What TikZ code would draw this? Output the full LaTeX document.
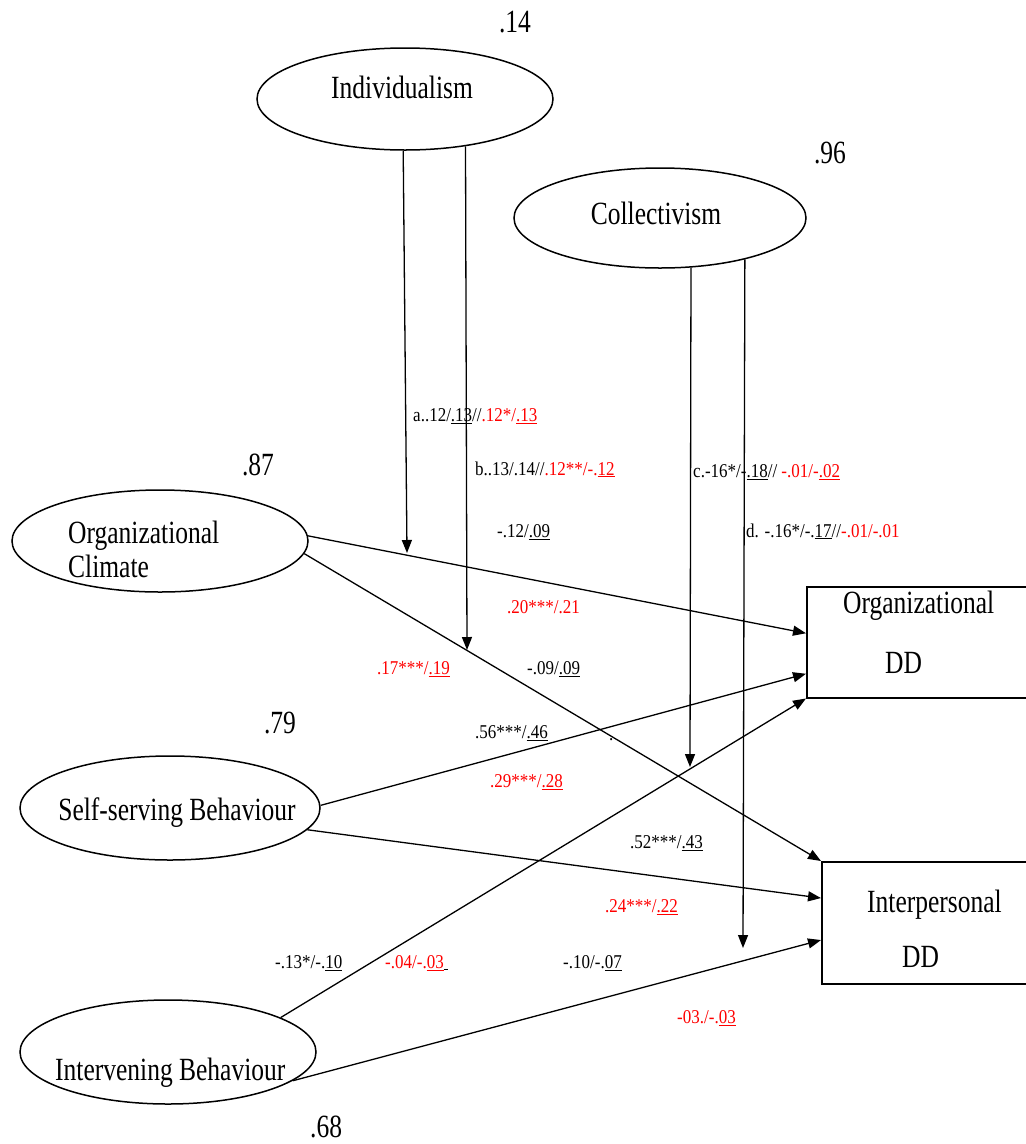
\documentclass[tikz,border=0pt]{standalone}
\usepackage{fontspec}
\setmainfont{Liberation Serif}
\usetikzlibrary{arrows.meta,shapes.geometric,calc}
\newcommand\TallT[1]{\scalebox{1}[1.27]{#1}}
\newcommand\SmT[1]{\scalebox{1}[1.15]{#1}}
\definecolor{lblred}{RGB}{255,0,0}
\begin{document}
\begin{tikzpicture}[x=1pt,y=-1pt,
  latent/.style={draw, ellipse, line width=1.5pt, inner sep=0pt},
  obs/.style={draw, rectangle, line width=1.5pt, inner sep=0pt, anchor=north west},
  conn/.style={line width=1.3pt, -{Triangle[length=13pt,width=10pt]}},
  bigt/.style={font=\fontsize{25.5}{30}\selectfont, inner sep=0pt, anchor=base},
  bigl/.style={font=\fontsize{25.5}{30}\selectfont, inner sep=0pt, anchor=base west},
  smt/.style={font=\fontsize{17}{20}\selectfont, inner sep=0pt, anchor=base west},
]
\useasboundingbox (0,0) rectangle (1026,1144);
\fill[white] (0,0) rectangle (1026,1144);

% latent variables
\node[latent, minimum width=296pt, minimum height=102pt] (ind) at (405,99) {};
\node[latent, minimum width=292pt, minimum height=100pt] (col) at (660,218) {};
\node[latent, minimum width=296pt, minimum height=102pt] (oc) at (160,541) {};
\node[latent, minimum width=300pt, minimum height=104pt] (ssb) at (170,808) {};
\node[latent, minimum width=296pt, minimum height=104pt] (inb) at (168,1052) {};

% observed variables
\node[obs, minimum width=235pt, minimum height=111pt] (odd) at (806,586) {};
\node[obs, minimum width=220pt, minimum height=122pt] (idd) at (821,861) {};

% node texts
\node[bigt] (tind) at (402,98) {\TallT{Individualism}};
\node[bigt] (tcol) at (656,224) {\TallT{Collectivism}};
\node[bigl] (toc1) at (68,543) {\TallT{Organizational}};
\node[bigl] (toc2) at (68,577) {\TallT{Climate}};
\node[bigt] (tssb) at (177,820) {\TallT{Self-serving Behaviour}};
\node[bigl] (tinb) at (55,1080) {\TallT{Intervening Behaviour}};
\node[bigl] (todd1) at (843,613) {\TallT{Organizational}};
\node[bigl] (todd2) at (885,673) {\TallT{DD}};
\node[bigl] (tidd1) at (867,912) {\TallT{Interpersonal}};
\node[bigl] (tidd2) at (902,967) {\TallT{DD}};

% R-squared values
\node[bigt] (r1) at (515,32) {\TallT{.14}};
\node[bigt] (r2) at (830,163) {\TallT{.96}};
\node[bigt] (r3) at (258,475) {\TallT{.87}};
\node[bigt] (r4) at (280,733) {\TallT{.79}};
\node[bigl] (r5) at (310,1137) {\TallT{.68}};

% paths
\draw[conn] (oc.2) -- ($(odd.north west)!0.42!(odd.south west)$);
\draw[conn] (oc.-5) -- (idd.north west);
\draw[conn] (ssb.1) -- ($(odd.north west)!0.78!(odd.south west)$);
\draw[conn] (ssb.-9) -- ($(idd.north west)!0.30!(idd.south west)$);
\draw[conn] (inb.17) -- (odd.south west);
\draw[conn] (inb.-13) -- ($(idd.north west)!0.64!(idd.south west)$);

% moderation arrows
\coordinate (t1) at (407,553);
\coordinate (t2) at (467,650);
\coordinate (t3) at (690,767);
\coordinate (t4) at (743,948);
\draw[conn] (ind.-92) -- (t1);
\draw[conn] (ind.-38) -- (t2);
\draw[conn] (col.-58) -- (t3);
\draw[conn] (col.-26) -- (t4);

% coefficient labels
\node[smt] (la) at (413,421) {\SmT{a..12/\underline{.13}//\textcolor{lblred}{.12*/\underline{.13}}}};
\node[smt] (lb) at (475,475) {\SmT{b..13/.14//\textcolor{lblred}{.12**/-.\underline{12}}}};
\node[smt] (lc) at (693,477) {\SmT{c.-16*/-\underline{.18}// \textcolor{lblred}{-.01/-\underline{.02}}}};
\node[smt] (ld) at (746,537) {\SmT{d. -.16*/-.\underline{17}//\textcolor{lblred}{-.01/-.01}}};
\node[smt] (l1) at (497,537) {\SmT{-.12/\underline{.09}}};
\node[smt] (l2) at (507,613) {\SmT{\textcolor{lblred}{.20***/.21}}};
\node[smt] (l3) at (377,674) {\SmT{\textcolor{lblred}{.17***/\underline{.19}}}};
\node[smt] (l4) at (527,674) {\SmT{-.09/\underline{.09}}};
\node[smt] (l5) at (475,738) {\SmT{.56***/\underline{.46}}};
\node[smt] (ldot) at (609,740) {\SmT{.}};
\node[smt] (l6) at (490,787) {\SmT{\textcolor{lblred}{.29***/\underline{.28}}}};
\node[smt] (l7) at (630,848) {\SmT{.52***/\underline{.43}}};
\node[smt] (l8) at (605,912) {\SmT{\textcolor{lblred}{.24***/\underline{.22}}}};
\node[smt] (l9) at (275,968) {\SmT{-.13*/-.\underline{10}}};
\node[smt] (l10) at (385,968) {\SmT{\textcolor{lblred}{-.04/-.\underline{03}}\underline{\hbox to 4pt{}}}};
\node[smt] (l11) at (563,968) {\SmT{-.10/-.\underline{07}}};
\node[smt] (l12) at (677,1023) {\SmT{\textcolor{lblred}{-03./-.\underline{03}}}};
\end{tikzpicture}
\end{document}
